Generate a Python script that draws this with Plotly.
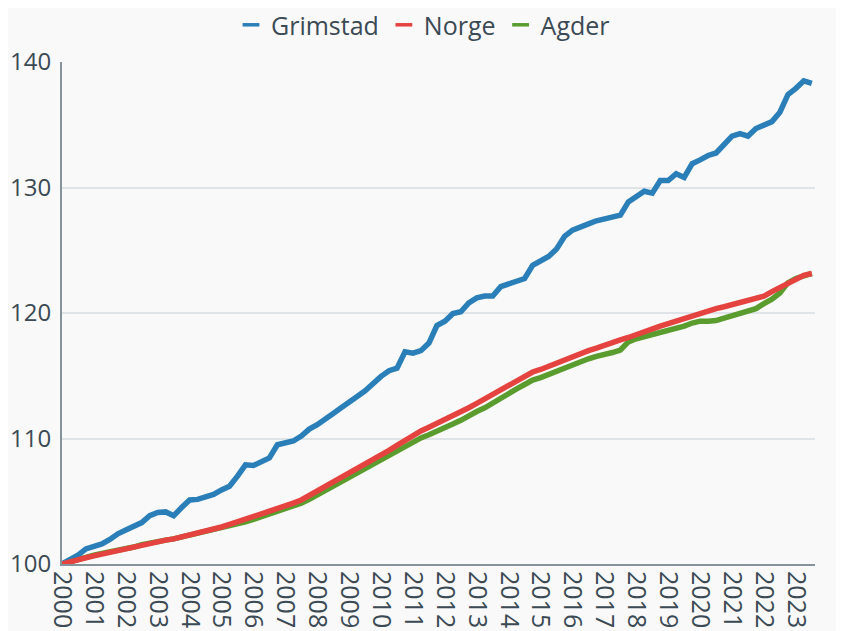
import plotly.graph_objects as go

years = list(range(2000, 2024))
tick_labels = [str(y) for y in years]

# quarterly periods 2000K1 .. 2023K3, plotted at year + (q-1)/4
quarters = [y + q / 4 for y in range(2000, 2024) for q in range(4)][:95]

grimstad = [
    100.0, 100.3, 100.7, 101.2,
    101.35, 101.6, 101.95, 102.4,
    102.7, 102.95, 103.3, 103.85,
    104.1, 104.15, 103.85, 104.5,
    105.1, 105.15, 105.3, 105.55,
    105.9, 106.2, 107.0, 107.9,
    107.85, 108.1, 108.45, 109.5,
    109.6, 109.8, 110.2, 110.75,
    111.1, 111.5, 112.0, 112.45,
    112.85, 113.35, 113.8, 114.4,
    114.95, 115.4, 115.6, 116.9,
    116.8, 117.0, 117.6, 119.0,
    119.35, 119.95, 120.1, 120.8,
    121.2, 121.35, 121.35, 122.1,
    122.3, 122.55, 122.75, 123.8,
    124.1, 124.5, 125.1, 126.1,
    126.6, 126.8, 127.1, 127.35,
    127.5, 127.7, 127.8, 128.85,
    129.3, 129.7, 129.55, 130.55,
    130.55, 131.1, 130.8, 131.9,
    132.2, 132.55, 132.75, 133.5,
    134.1, 134.3, 134.1, 134.7,
    134.95, 135.25, 136.0, 137.4,
    137.9, 138.5, 138.3,
]

norge = [
    100.0, 100.2, 100.35, 100.5,
    100.65, 100.8, 100.9, 101.0,
    101.15, 101.3, 101.45, 101.6,
    101.75, 101.9, 102.0, 102.15,
    102.3, 102.4, 102.55, 102.75,
    102.95, 103.15, 103.35, 103.55,
    103.75, 103.95, 104.15, 104.4,
    104.6, 104.85, 105.1, 105.45,
    105.8, 106.15, 106.5, 106.9,
    107.3, 107.6, 107.95, 108.3,
    108.65, 109.05, 109.45, 109.85,
    110.25, 110.6, 110.9, 111.2,
    111.45, 111.75, 112.1, 112.45,
    112.8, 113.15, 113.55, 113.95,
    114.3, 114.65, 115.0, 115.3,
    115.5, 115.75, 116.05, 116.35,
    116.6, 116.8, 117.0, 117.2,
    117.45, 117.65, 117.85, 118.05,
    118.3, 118.5, 118.7, 118.95,
    119.15, 119.35, 119.6, 119.85,
    120.0, 120.15, 120.35, 120.5,
    120.65, 120.8, 120.95, 121.15,
    121.35, 121.7, 122.05, 122.4,
    122.75, 123.0, 123.15,
]

agder = [
    100.0, 100.2, 100.4, 100.55,
    100.7, 100.85, 100.95, 101.05,
    101.2, 101.35, 101.55, 101.7,
    101.8, 101.9, 102.0, 102.15,
    102.25, 102.35, 102.5, 102.65,
    102.8, 103.0, 103.15, 103.35,
    103.55, 103.75, 103.95, 104.15,
    104.35, 104.6, 104.85, 105.15,
    105.5, 105.85, 106.2, 106.55,
    106.95, 107.3, 107.6, 107.95,
    108.3, 108.65, 109.05, 109.4,
    109.75, 110.05, 110.3, 110.55,
    110.85, 111.15, 111.45, 111.85,
    112.15, 112.45, 112.85, 113.25,
    113.6, 113.95, 114.3, 114.65,
    114.85, 115.1, 115.4, 115.7,
    115.95, 116.15, 116.35, 116.55,
    116.65, 116.85, 117.05, 117.7,
    117.95, 118.1, 118.25, 118.45,
    118.6, 118.8, 118.95, 119.2,
    119.35, 119.35, 119.4, 119.6,
    119.8, 120.0, 120.1, 120.35,
    120.75, 121.1, 121.6, 122.4,
    122.75, 123.0, 123.15,
]

series = [
    ("Agder", agder, "#5b9c2f", 3),
    ("Grimstad", grimstad, "#2a7fb8", 1),
    ("Norge", norge, "#e4433f", 2),
]

FONT = "Open Sans"
TXT = "#3b4a54"
AXIS = "#87939a"
GRID = "#dfe4e9"
BG = "#f9f9f9"

fig = go.Figure()
for name, vals, color, rank in series:
    fig.add_trace(go.Scatter(
        x=quarters, y=vals, mode="lines", name=name,
        line=dict(color=color, width=5.5),
        showlegend=False, hoverinfo="skip",
    ))
for name, vals, color, rank in series:
    fig.add_trace(go.Scatter(
        x=[None], y=[None], mode="markers", name=name, legendrank=rank,
        marker=dict(symbol="line-ew-open", size=12, color=color,
                    line=dict(color=color, width=3.5)),
    ))

fig.update_layout(
    width=844, height=631,
    margin=dict(l=54, r=37, t=54, b=75, autoexpand=False),
    paper_bgcolor=BG, plot_bgcolor=BG,
    font=dict(family=FONT, size=25, color=TXT),
    showlegend=True,
    legend=dict(
        orientation="h", xref="container", yref="container",
        x=0.4917, xanchor="center", y=0.973, yanchor="middle",
        font=dict(size=25, color=TXT), itemwidth=30,
        bgcolor="rgba(0,0,0,0)",
    ),
    xaxis=dict(
        range=[2000, 2023.6], tickmode="array", tickvals=years, ticktext=tick_labels,
        tickangle=90, showgrid=False, zeroline=False,
        showline=True, linecolor=AXIS, linewidth=2, automargin=False,
        ticks="", tickfont=dict(size=25, color=TXT),
    ),
    yaxis=dict(
        range=[100, 140], tickmode="array", tickvals=[100, 110, 120, 130, 140],
        showgrid=True, gridcolor=GRID, gridwidth=2, zeroline=False,
        showline=True, linecolor=AXIS, linewidth=2, automargin=False,
        ticks="", tickfont=dict(size=24, color=TXT), ticklabelstandoff=4,
    ),
)

fig.write_html("out.html")
